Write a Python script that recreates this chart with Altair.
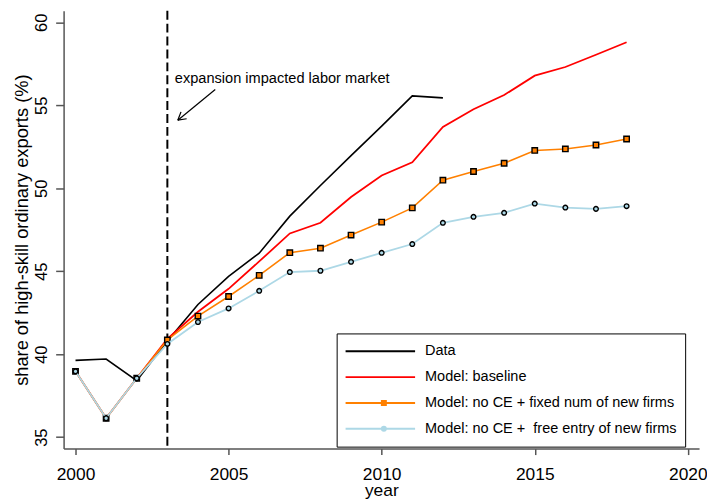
import altair as alt
import pandas as pd

# ---------------- data ----------------
names = [
    "Data",
    "Model: baseline",
    "Model: no CE + fixed num of new firms",
    "Model: no CE +\u00a0 free entry of new firms",
]
colors = ["#000000", "#ff0000", "#ff8000", "#add8e6"]

data_years = list(range(2000, 2013))
data_vals = [39.63, 39.71, 38.41, 40.80, 43.00, 44.69, 46.09, 48.32, 50.17, 51.97, 53.75, 55.57, 55.45]

model_years = list(range(2000, 2019))
baseline_vals = [38.97, 36.14, 38.55, 40.92, 42.56, 43.94, 45.59, 47.28, 47.92, 49.47,
                 50.77, 51.57, 53.70, 54.76, 55.62, 56.79, 57.31, 58.05, 58.80]
fixed_vals = [38.97, 36.14, 38.55, 40.86, 42.30, 43.48, 44.75, 46.12, 46.39, 47.18,
              47.96, 48.82, 50.49, 51.01, 51.51, 52.28, 52.37, 52.61, 52.97]
free_vals = [38.97, 36.14, 38.55, 40.62, 41.94, 42.76, 43.82, 44.95, 45.03, 45.57,
             46.11, 46.64, 47.92, 48.28, 48.52, 49.08, 48.84, 48.76, 48.92]

x_ticks = [2000, 2005, 2010, 2015, 2020]
y_ticks = [35, 40, 45, 50, 55, 60]
x_domain = [1999.611, 2020.367]
y_domain = [34.31, 60.70]

event_year = [2003]
annot_text = ["expansion impacted labor market"]
annot_x = [2003.244]
annot_y = [56.35]
# arrow segments (shaft + two barbs), in data units
arrow_x = [2004.564, 2003.341, 2003.341]
arrow_y = [55.957, 54.103, 54.103]
arrow_x2 = [2003.341, 2003.630, 2003.445]
arrow_y2 = [54.103, 54.193, 54.605]

FONT = "Liberation Sans"

# ---------------- tables ----------------
series_vals = [data_vals, baseline_vals, fixed_vals, free_vals]
series_years = [data_years, model_years, model_years, model_years]
frames = []
for n, yrs, vals in zip(names, series_years, series_vals):
    frames.append(pd.DataFrame({"year": yrs, "value": vals, "series": n, "series_m": n}))

x_enc = alt.X(
    "year:Q",
    scale=alt.Scale(domain=x_domain, nice=False, zero=False),
    axis=alt.Axis(
        values=x_ticks, format="d", title="year", grid=False,
        tickSize=6, tickWidth=1.5, tickColor="#555555",
        domainColor="#555555", domainWidth=1.5,
        labelPadding=11, labelFontSize=17.5, labelFont=FONT, labelColor="black",
        labelBaseline="top", labelFlush=False,
        titleFontSize=17.5, titleFont=FONT, titleColor="black", titleFontWeight="normal",
        titleBaseline="alphabetic", titleY=47,
    ),
)
y_enc = alt.Y(
    "value:Q",
    scale=alt.Scale(domain=y_domain, nice=False, zero=False),
    axis=alt.Axis(
        values=y_ticks, title="share of high-skill ordinary exports (%)", grid=False,
        tickSize=8, tickWidth=1.5, tickColor="#555555",
        domainColor="#555555", domainWidth=1.5,
        labelAngle=270, labelAlign="center", labelBaseline="alphabetic",
        labelPadding=9, labelFontSize=16.5, labelFont=FONT, labelColor="black",
        titleAngle=270, titleAlign="center", titleBaseline="alphabetic", titleX=-36,
        titleFontSize=18.4, titleFont=FONT, titleColor="black", titleFontWeight="normal",
    ),
)

line_legend = alt.Legend(
    title=None, orient="none", legendX=275, legendY=325,
    symbolType="stroke", symbolSize=4900, symbolStrokeWidth=2,
    clipHeight=20, rowPadding=6, padding=8, labelOffset=9,
    labelFontSize=14.6, labelFont=FONT, labelColor="black", labelLimit=500,
    fillColor="white", strokeColor="black",
    labelExpr="datum.label + '\u00a0\u00a0\u00a0\u00a0\u00a0'",
)
color_enc = alt.Color(
    "series:N",
    scale=alt.Scale(domain=names, range=colors),
    legend=line_legend,
)

marker_names = [names[2], names[3]]
marker_legend = alt.Legend(
    title=None, orient="none", legendX=315.25, legendY=385,
    clipHeight=20, rowPadding=6, padding=0, symbolSize=36,
    symbolStrokeColor="black", symbolStrokeWidth=1.5,
    labelFontSize=14.6, labelFont=FONT, labelExpr="''",
)
fill_enc = alt.Fill(
    "series_m:N",
    scale=alt.Scale(domain=marker_names, range=["#ff8000", "#add8e6"]),
    legend=marker_legend,
)
shape_enc = alt.Shape(
    "series_m:N",
    scale=alt.Scale(domain=marker_names, range=["square", "circle"]),
    legend=marker_legend,
)

layers = []
# dashed event line
layers.append(
    alt.Chart(pd.DataFrame({"year": event_year}))
    .mark_rule(color="black", strokeWidth=2, strokeDash=[9, 4])
    .encode(x=alt.X("year:Q", scale=alt.Scale(domain=x_domain, nice=False, zero=False)))
)

widths = [1.6, 1.8, 1.6, 1.8]
for i, f in enumerate(frames):
    layers.append(
        alt.Chart(f).mark_line(strokeWidth=widths[i]).encode(x=x_enc, y=y_enc, color=color_enc)
    )
    if i >= 2:
        size = 30 if i == 2 else 22
        layers.append(
            alt.Chart(f).mark_point(filled=True, stroke="black", strokeWidth=1.4, size=size, opacity=1)
            .encode(x=x_enc, y=y_enc, fill=fill_enc, shape=shape_enc)
        )

# annotation
layers.append(
    alt.Chart(pd.DataFrame({"year": annot_x, "value": annot_y, "t": annot_text}))
    .mark_text(align="left", baseline="alphabetic", fontSize=14.7, font=FONT, color="black")
    .encode(x="year:Q", y="value:Q", text="t:N")
)
layers.append(
    alt.Chart(pd.DataFrame({"year": arrow_x, "value": arrow_y, "year2": arrow_x2, "value2": arrow_y2}))
    .mark_rule(color="black", strokeWidth=1.2)
    .encode(x="year:Q", y="value:Q", x2="year2:Q", y2="value2:Q")
)

chart = (
    alt.layer(*layers)
    .properties(
        width=640, height=441,
        autosize=alt.AutoSizeParams(type="none"),
        padding={"left": 56, "top": 1, "right": 8, "bottom": 52},
        background="white",
    )
    .configure_view(stroke=None)
)

chart.save("out.html", embed_options={"renderer": "svg", "actions": False})
